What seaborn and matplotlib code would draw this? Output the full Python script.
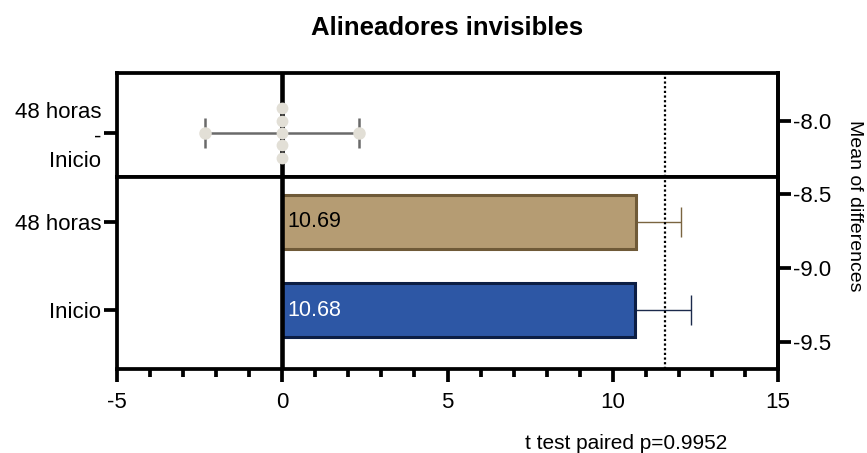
import numpy as np
import pandas as pd
import matplotlib
matplotlib.use("Agg")
import matplotlib.pyplot as plt
from matplotlib.ticker import MultipleLocator, FormatStrFormatter
import seaborn as sns

# data
groups = ["48 horas", "Inicio"]
means = [10.69, 10.68]
sd = [1.36, 1.68]
diff_label = "48 horas\n-\nInicio"
differences = [0.0, 0.0, 0.0, 0.0, 0.0]
mean_diff = -0.01
ci_low = -2.33
ci_high = 2.31
ref_line = 11.58
right_ticks = [-8.0, -8.5, -9.0, -9.5]
p_text = "t test paired p=0.9952"

# colors
bar_fill = ["#b59c73", "#2d57a5"]
bar_edge = ["#6f5a38", "#0c1e44"]
err_col = ["#7a6440", "#1b2a4c"]
label_col = ["black", "white"]
dot_col = "#e2dfd6"
grey = "#6a6a6a"

sns.set_style("ticks")
plt.rcParams["font.family"] = ["Liberation Sans", "DejaVu Sans"]
plt.rcParams["axes.unicode_minus"] = False
plt.rcParams["text.color"] = "black"
plt.rcParams["axes.labelcolor"] = "black"

W, H = 867, 453
fig = plt.figure(figsize=(W / 100, H / 100), dpi=100)

L, R = 117 / W, 778 / W
ax_top = fig.add_axes([L, 1 - 177 / H, R - L, 104 / H])
ax_bot = fig.add_axes([L, 1 - 369 / H, R - L, 192 / H], sharex=ax_top)
ax_r = fig.add_axes([L, 1 - 369 / H, R - L, 296 / H])

spw = 2.7
tickkw = dict(width=spw, color="black", labelsize=16, labelcolor="black")

# ---- top panel: paired differences ----
ax_top.axvline(0, color="black", lw=3.3, zorder=1)
ax_top.errorbar(x=[mean_diff], y=[0], xerr=[[mean_diff - ci_low], [ci_high - mean_diff]],
                fmt="none", ecolor=grey, elinewidth=1.8, capsize=11, capthick=1.8, zorder=2)
ax_top.plot([ci_low, ci_high], [0, 0], "o", color=dot_col, markersize=8, zorder=3)
df_diff = pd.DataFrame({"diff": differences, "grp": [diff_label] * len(differences)})
sns.swarmplot(data=df_diff, x="diff", y="grp", orient="h", color=dot_col,
              size=8.5, linewidth=0, ax=ax_top, zorder=4)
ax_top.axvline(ref_line, color="black", lw=1.6, ls=(0, (1, 1.1)), zorder=1)
ax_top.set_ylim(44 / 104, -60 / 104)
ax_top.set_xlabel("")
ax_top.set_ylabel("")
ax_top.tick_params(axis="x", which="both", bottom=False, labelbottom=False)
ax_top.tick_params(axis="y", length=9.5, pad=2, **tickkw)

# ---- bottom panel: bars ----
df_bar = pd.DataFrame({"grupo": groups, "media": means})
sns.barplot(data=df_bar, x="media", y="grupo", hue="grupo", palette=bar_fill,
            saturation=1, orient="h", errorbar=None, width=0.62, legend=False,
            ax=ax_bot, zorder=2)
for patch, ec in zip(ax_bot.patches, bar_edge):
    patch.set_edgecolor(ec)
    patch.set_linewidth(2.2)
for i, (m, s) in enumerate(zip(means, sd)):
    ax_bot.errorbar(x=[m], y=[i], xerr=[[0], [s]], fmt="none", ecolor=err_col[i],
                    elinewidth=1.0, capsize=10.8, capthick=1.0, zorder=1)
    ax_bot.text(0.15, i, f"{m:.2f}", ha="left", va="center", fontsize=15.5,
                color=label_col[i], zorder=5)
ax_bot.axvline(0, color="black", lw=3.3, zorder=3)
ax_bot.axvline(ref_line, color="black", lw=1.6, ls=(0, (1, 1.1)), zorder=4)
ax_bot.set_ylim(1.670, -0.511)
ax_bot.set_xlim(-5, 15)
ax_bot.set_xticks(range(-5, 16, 5))
ax_bot.xaxis.set_minor_locator(MultipleLocator(1))
ax_bot.set_xlabel("")
ax_bot.set_ylabel("")
ax_bot.tick_params(axis="x", which="major", length=9.5, pad=7, **tickkw)
ax_bot.tick_params(axis="x", which="minor", length=5.8, width=spw, color="black")
ax_bot.tick_params(axis="y", length=9.5, pad=2, **tickkw)

for ax in (ax_top, ax_bot):
    for sp in ax.spines.values():
        sp.set_visible(True)
        sp.set_linewidth(spw)
        sp.set_color("black")

# ---- right axis: mean of differences ----
ax_r.set_facecolor("none")
for side in ["left", "top", "bottom"]:
    ax_r.spines[side].set_visible(False)
ax_r.spines["right"].set_linewidth(spw)
ax_r.spines["right"].set_color("black")
ax_r.set_xticks([])
ax_r.yaxis.tick_right()
ax_r.set_ylim(-9.682, -7.678)
ax_r.set_yticks(right_ticks)
ax_r.yaxis.set_major_formatter(FormatStrFormatter("%.1f"))
ax_r.tick_params(axis="y", length=9.5, pad=1.5, **tickkw)
ax_r.yaxis.set_label_position("right")
ax_r.set_ylabel("Mean of differences", fontsize=14, rotation=270, va="center", color="black")
ax_r.yaxis.set_label_coords(1.116, 0.55)

fig.text(447.5 / W, 1 - 35 / H, "Alineadores invisibles", ha="center", va="baseline",
         fontsize=18.5, fontweight="bold", color="black")
fig.text(626.5 / W, 1 - 449 / H, p_text, ha="center", va="baseline", fontsize=15,
         color="black")

plt.savefig("out.png", dpi=100)
